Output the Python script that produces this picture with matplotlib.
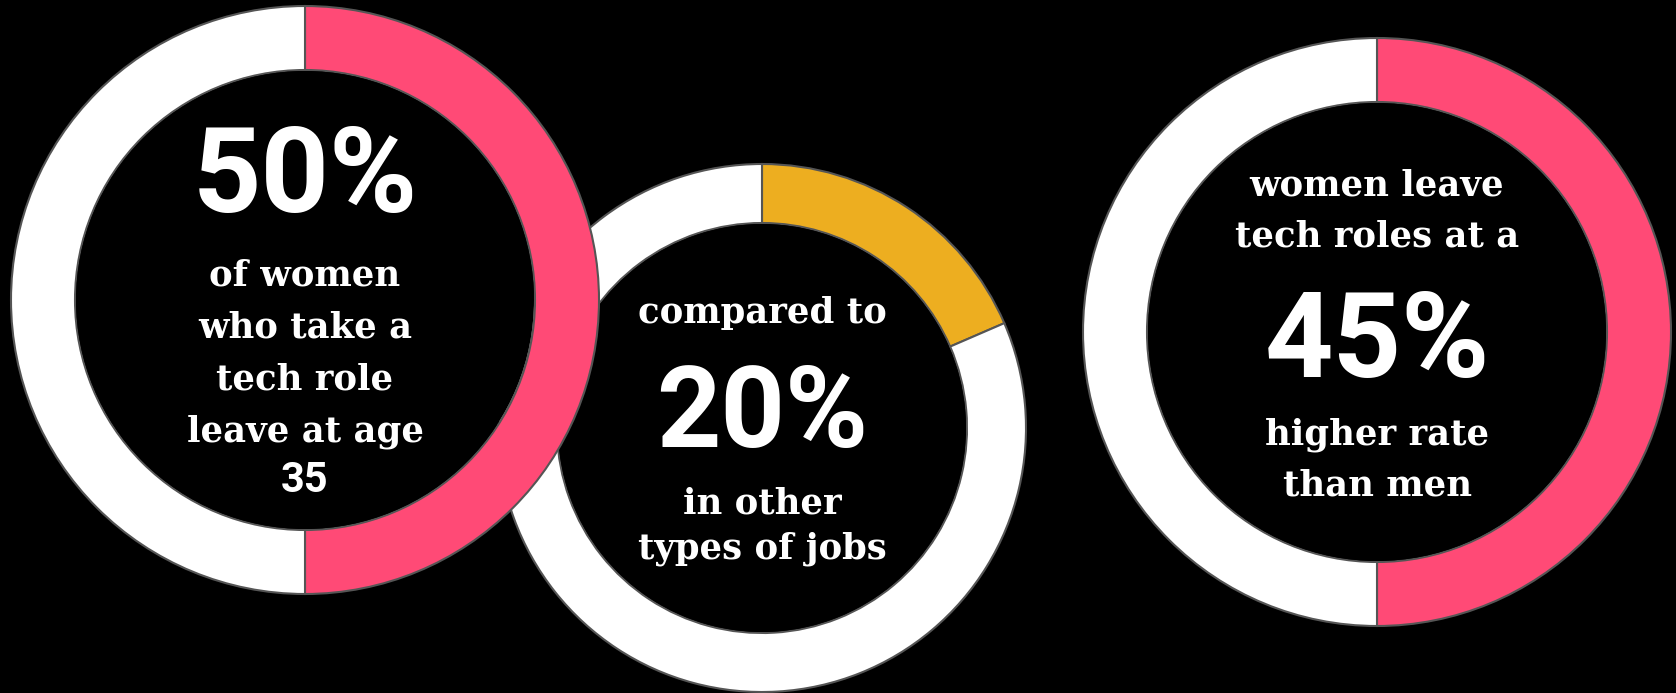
import matplotlib.pyplot as plt
from matplotlib.patches import Circle

# share of each ring (highlight, rest)
left_values = [50, 50]
middle_values = [18.5, 81.5]
right_values = [50, 50]

left_big = "50%"
middle_big = "20%"
right_big = "45%"

left_lines = ["of women", "who take a", "tech role", "leave at age"]
left_last = "35"
middle_top = ["compared to"]
middle_bottom = ["in other", "types of jobs"]
right_top = ["women leave", "tech roles at a"]
right_bottom = ["higher rate", "than men"]

PINK = "#FF4A76"
YELLOW = "#EDAE20"
WHITE = "#FFFFFF"
EDGE = "#555555"

W, H = 1676, 693
SERIF = ["DejaVu Serif"]
SANS = ["Roboto", "DejaVu Sans"]
BODY = 25.5


def donut(ax, values, color, cx, cy, r_out, r_in):
    cy = H - cy
    ax.pie(values, colors=[color, WHITE], radius=r_out, center=(cx, cy),
           startangle=90, counterclock=False, frame=True,
           wedgeprops=dict(width=r_out - r_in, edgecolor=EDGE, linewidth=1.5))
    ax.add_patch(Circle((cx, cy), r_in - 1, facecolor="black", edgecolor="none"))


def label(ax, x, y, s, size, family):
    ax.text(x, H - y, s, ha="center", va="baseline", color="white",
            fontsize=size, fontweight="bold", family=family)


def main():
    fig = plt.figure(figsize=(W / 100, H / 100), dpi=100, facecolor="black")
    ax = fig.add_axes([0, 0, 1, 1])
    ax.set_facecolor("black")

    donut(ax, middle_values, YELLOW, 762, 428, 264, 205)
    donut(ax, left_values, PINK, 305, 300, 294, 230)
    donut(ax, right_values, PINK, 1377, 332, 294, 230)

    # left ring text
    label(ax, 305, 212, left_big, 86, SANS)
    for i, s in enumerate(left_lines):
        label(ax, 305, 285.7 + i * 51.8, s, BODY, SERIF)
    label(ax, 305, 492, left_last, 30, SANS)

    # middle ring text
    label(ax, 762, 322.7, middle_top[0], BODY, SERIF)
    label(ax, 762, 447, middle_big, 81, SANS)
    for i, s in enumerate(middle_bottom):
        label(ax, 762, 513 + i * 45, s, BODY, SERIF)

    # right ring text
    for i, s in enumerate(right_top):
        label(ax, 1377, 195 + i * 51.7, s, BODY, SERIF)
    label(ax, 1377, 377, right_big, 86, SANS)
    for i, s in enumerate(right_bottom):
        label(ax, 1377, 445 + i * 51, s, BODY, SERIF)

    ax.set_xlim(0, W)
    ax.set_ylim(0, H)
    ax.set_aspect("equal")
    ax.axis("off")

    plt.savefig("out.png", dpi=100, facecolor="black")


if __name__ == '__main__':
    main()
